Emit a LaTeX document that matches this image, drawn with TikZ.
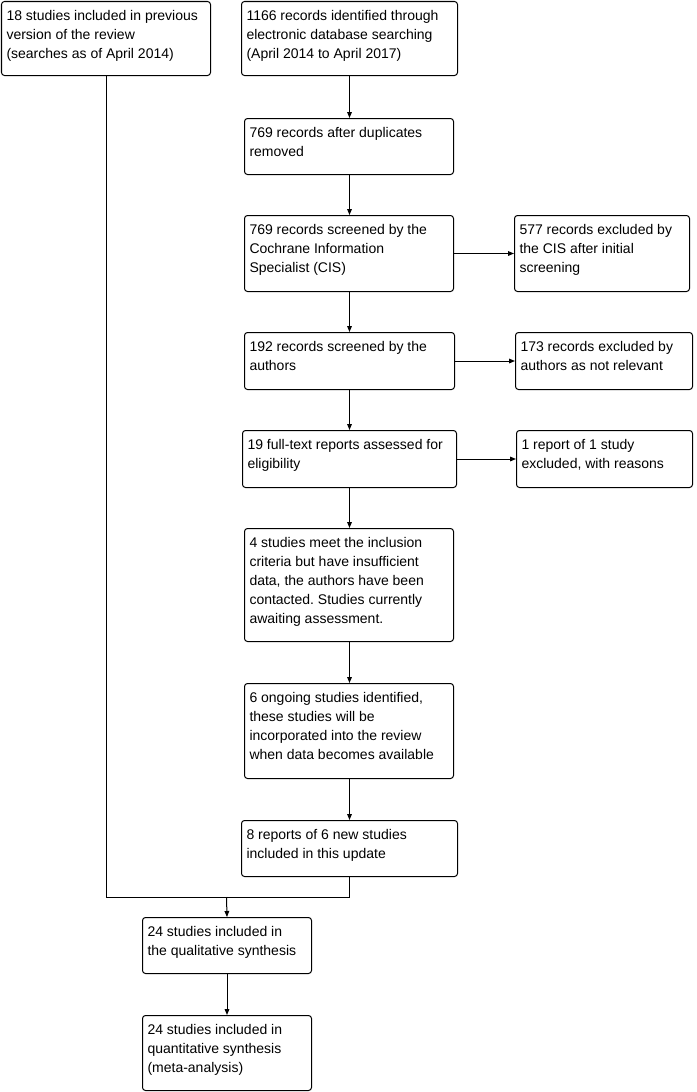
\documentclass[tikz,border=0pt]{standalone}
\usepackage{fontspec}
\setmainfont{Liberation Sans}
\usetikzlibrary{arrows.meta}
\frenchspacing
\newcommand\bx[6]{%
  \node[bx, anchor=north west] (#1) at (#2,#3)
    {\parbox[c][\dimexpr 0.75pt*\numexpr #5-#3\relax\relax][t]{\dimexpr 0.75pt*\numexpr #4-#2\relax - 7.5pt\relax}%
      {\fontsize{10.5pt}{14.25pt}\selectfont\frenchspacing\raggedright\rule{0pt}{14.25pt}#6}};}
\begin{document}
\begin{tikzpicture}[x=0.75pt,y=-0.75pt,
  bx/.style={draw, line width=0.75pt, rounded corners=2.25pt, inner xsep=3.75pt, inner ysep=0pt},
  conn/.style={line width=0.75pt},
  arr/.style={conn, -{Triangle[length=4.5pt,width=3.5pt]}}]
\useasboundingbox (0,0) rectangle (696,1092);
\bx{prev}{1}{1}{210}{75}{18 studies included in previous\\version of the review\\(searches as of April 2014)}
\bx{ident}{241}{1}{457}{75}{1166 records identified through\\electronic database searching\\(April 2014 to April 2017)}
\bx{dup}{244}{118}{453}{174}{769 records after duplicates\\removed}
\bx{cis}{244}{215}{453}{291}{769 records screened by the\\Cochrane Information\\Specialist (CIS)}
\bx{excA}{514}{215}{689}{291}{577 records excluded by\\the CIS after initial\\screening}
\bx{auth}{244}{332}{454}{389}{192 records screened by the\\authors}
\bx{excB}{515}{332}{692}{389}{173 records excluded by\\authors as not relevant}
\bx{full}{242}{430}{456}{487}{19 full-text reports assessed for\\eligibility}
\bx{excC}{516}{430}{692}{487}{1 report of 1 study\\excluded, with reasons}
\bx{await}{244}{528}{453}{641}{4 studies meet the inclusion\\criteria but have insufficient\\data, the authors have been\\contacted. Studies currently\\awaiting assessment.}
\bx{ongo}{244}{683}{453}{778}{6 ongoing studies identified,\\these studies will be\\incorporated into the review\\when data becomes available}
\bx{upd}{241}{820}{457}{876}{8 reports of 6 new studies\\included in this update}
\bx{qual}{142}{917}{311}{973}{24 studies included in\\the qualitative synthesis}
\bx{quant}{142}{1015}{311}{1090}{24 studies included in\\quantitative synthesis\\(meta-analysis)}
\coordinate (j) at (226.5,897);
\draw[arr] (ident.south) -- (ident.south |- dup.north);
\draw[arr] (ident.south |- dup.south) -- (ident.south |- cis.north);
\draw[arr] (ident.south |- cis.south) -- (ident.south |- auth.north);
\draw[arr] (ident.south |- auth.south) -- (ident.south |- full.north);
\draw[arr] (ident.south |- full.south) -- (ident.south |- await.north);
\draw[arr] (ident.south |- await.south) -- (ident.south |- ongo.north);
\draw[arr] (ident.south |- ongo.south) -- (ident.south |- upd.north);
\draw[arr] (cis.east) -- (excA.west |- cis.east);
\draw[arr] (auth.east) -- (excB.west |- auth.east);
\draw[arr] (full.east) -- (excC.west |- full.east);
\draw[conn] (prev.south) -- (prev.south |- j) -- (upd.south |- j) -- (upd.south);
\draw[arr] (j) -- (qual.north);
\draw[arr] (qual.south) -- (quant.north);
\end{tikzpicture}
\end{document}
